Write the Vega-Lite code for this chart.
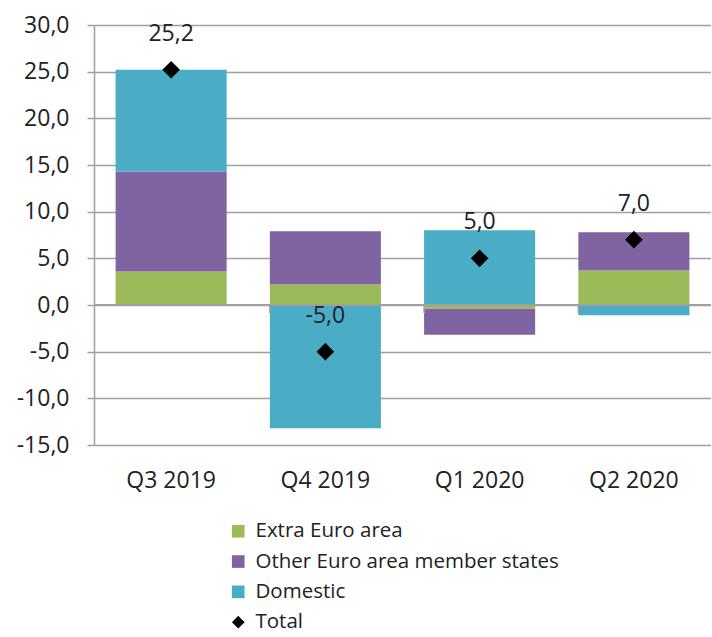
{
  "$schema": "https://vega.github.io/schema/vega-lite/v6.json",
  "width": 617,
  "height": 420,
  "autosize": {"type": "none"},
  "padding": {"left": 94, "top": 25, "right": 0, "bottom": 192},
  "config": {
    "font": "Open Sans",
    "view": {"stroke": null},
    "locale": {"number": {"decimal": ",", "thousands": ".", "grouping": [3], "currency": ["", " €"], "minus": "-"}}
  },
  "datasets": {
    "parts": [
      {"quarter": "Q3 2019", "series": "Extra Euro area", "ord": 1, "value": 3.6},
      {"quarter": "Q3 2019", "series": "Other Euro area member states", "ord": 2, "value": 10.7},
      {"quarter": "Q3 2019", "series": "Domestic", "ord": 3, "value": 10.9},
      {"quarter": "Q4 2019", "series": "Extra Euro area", "ord": 1, "value": 2.2},
      {"quarter": "Q4 2019", "series": "Other Euro area member states", "ord": 2, "value": 5.7},
      {"quarter": "Q4 2019", "series": "Domestic", "ord": 3, "value": -13.2},
      {"quarter": "Q1 2020", "series": "Extra Euro area", "ord": 1, "value": -0.4},
      {"quarter": "Q1 2020", "series": "Other Euro area member states", "ord": 2, "value": -2.8},
      {"quarter": "Q1 2020", "series": "Domestic", "ord": 3, "value": 8.0},
      {"quarter": "Q2 2020", "series": "Extra Euro area", "ord": 1, "value": 3.7},
      {"quarter": "Q2 2020", "series": "Other Euro area member states", "ord": 2, "value": 4.1},
      {"quarter": "Q2 2020", "series": "Domestic", "ord": 3, "value": -1.1}
    ],
    "totals": [
      {"quarter": "Q3 2019", "series": "Total", "total": 25.2},
      {"quarter": "Q4 2019", "series": "Total", "total": -5.0},
      {"quarter": "Q1 2020", "series": "Total", "total": 5.0},
      {"quarter": "Q2 2020", "series": "Total", "total": 7.0}
    ]
  },
  "data": {"name": "totals"},
  "encoding": {
    "x": {
      "field": "quarter", "type": "nominal", "sort": null,
      "scale": {"paddingInner": 0.28, "paddingOuter": 0.14},
      "axis": {"title": null, "labelAngle": 0, "domain": false, "ticks": false, "tickSize": 0, "labelPadding": 24, "labelFontSize": 23, "labelColor": "#222222", "grid": false}
    }
  },
  "layer": [
    {
      "data": {"name": "parts"},
      "mark": {"type": "bar"},
      "encoding": {
        "y": {
          "field": "value", "type": "quantitative", "stack": "zero",
          "scale": {"domain": [-15, 30], "nice": false, "zero": false},
          "axis": {
            "title": null, "format": ".1f", "values": [-15, -10, -5, 0, 5, 10, 15, 20, 25, 30],
            "domainColor": "#a0a0a0", "domainWidth": 1.5, "tickColor": "#a0a0a0", "tickWidth": 1.5, "tickSize": 7,
            "labelPadding": 18, "labelFontSize": 23, "labelColor": "#222222",
            "grid": true, "gridColor": "#a0a0a0", "gridWidth": 1.5
          }
        },
        "color": {
          "field": "series", "type": "nominal",
          "scale": {"domain": ["Extra Euro area", "Other Euro area member states", "Domestic", "Total"], "range": ["#9BBB59", "#8064A2", "#4BACC6", "#000000"]},
          "legend": {
            "orient": "none", "legendX": 134, "legendY": 496, "direction": "vertical", "title": null,
            "labelFontSize": 20.5, "labelColor": "#222222", "labelLimit": 0, "symbolSize": 160, "symbolType": "square",
            "rowPadding": 9.3, "labelOffset": 7, "padding": 0, "symbolStrokeWidth": 0,
            "encode": {"symbols": {"update": {"shape": {"signal": "datum.value === 'Total' ? 'diamond' : 'square'"}}}}
          }
        },
        "order": {"field": "ord", "type": "quantitative"}
      }
    },
    {
      "mark": {"type": "rule", "color": "#a0a0a0", "strokeWidth": 1.5},
      "encoding": {"x": null, "y": {"datum": 0, "type": "quantitative"}}
    },
    {
      "transform": [{"filter": "datum.quarter !== 'Q3 2019'"}],
      "mark": {"type": "rule", "color": "#a0a0a0", "strokeWidth": 1.5},
      "encoding": {
        "x": {"field": "quarter", "type": "nominal", "sort": null, "bandPosition": 0},
        "y": {"datum": 0, "type": "quantitative"},
        "y2": {"datum": -0.85}
      }
    },
    {
      "mark": {"type": "point", "shape": "diamond", "filled": true, "size": 310, "opacity": 1},
      "encoding": {
        "y": {"field": "total", "type": "quantitative"},
        "color": {"field": "series", "type": "nominal"}
      }
    },
    {
      "mark": {"type": "text", "dy": -29, "baseline": "alphabetic", "fontSize": 23, "color": "#222222"},
      "encoding": {
        "y": {"field": "total", "type": "quantitative"},
        "text": {"field": "total", "type": "quantitative", "format": ".1f"}
      }
    }
  ]
}
